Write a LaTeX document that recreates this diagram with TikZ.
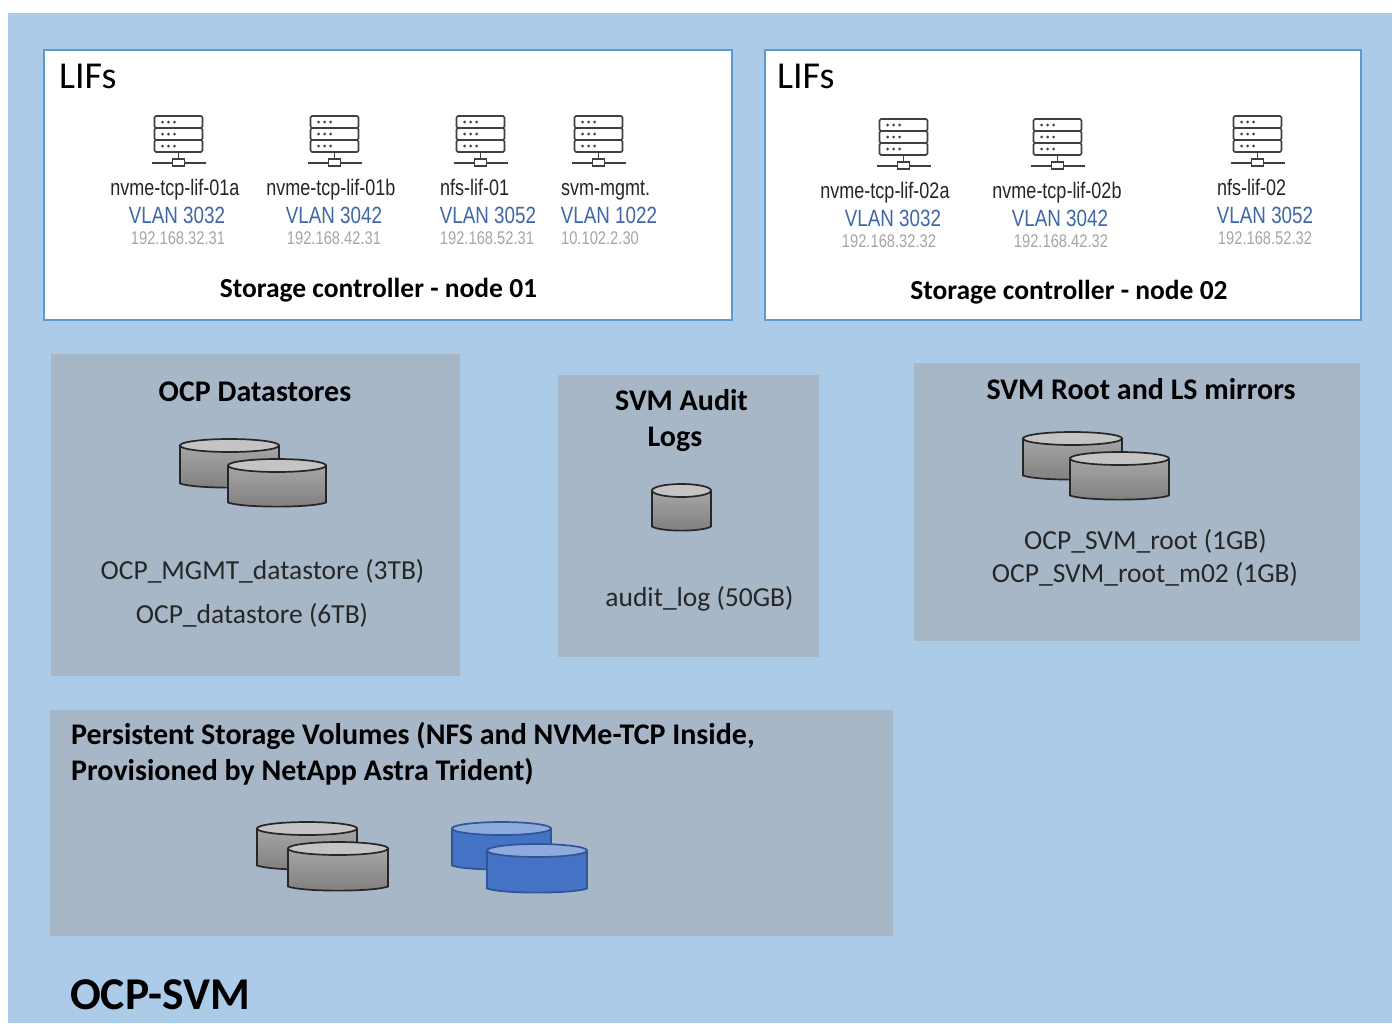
\documentclass[tikz,border=0pt]{standalone}
\usepackage{fontspec}
\setmainfont{Carlito}
\newfontfamily\narrowfont[FakeStretch=0.80]{Liberation Sans}
\definecolor{bgblue}{HTML}{ACCBE8}
\definecolor{lifborder}{HTML}{5B9BD5}
\definecolor{panelgrey}{HTML}{A7B7C8}
\definecolor{vlanblue}{HTML}{3F67A8}
\definecolor{ipgrey}{HTML}{A6A6A6}
\definecolor{icondark}{HTML}{404040}
\definecolor{drumedge}{HTML}{262626}
\definecolor{drumtop}{HTML}{C4C4C4}
\definecolor{drumhi}{HTML}{A6A6A6}
\definecolor{drumlo}{HTML}{7F7F7F}
\definecolor{blueedge}{HTML}{2F5597}
\definecolor{bluetop}{HTML}{8FAADC}
\definecolor{bluebody}{HTML}{4472C4}
\tikzset{
  x=1pt,y=-1pt,
  lifbox/.style={draw=lifborder,line width=2.6pt,fill=white},
  panel/.style={fill=panelgrey},
  liftitle/.style={anchor=west,inner sep=0pt,font=\fontsize{38}{40}\selectfont,text=black},
  lifname/.style={inner sep=0pt,anchor=base,font=\narrowfont\fontsize{22.5}{24}\selectfont,text=black!85},
  vlan/.style={inner sep=0pt,font=\narrowfont\fontsize{23.5}{25}\selectfont,text=vlanblue},
  ipaddr/.style={inner sep=0pt,font=\narrowfont\fontsize{18.4}{20}\selectfont,text=ipgrey},
  ctrlhead/.style={inner sep=0pt,font=\bfseries\fontsize{27.5}{30}\selectfont,text=black},
  boxhead/.style={inner sep=0pt,font=\bfseries\fontsize{30}{32}\selectfont,text=black},
  voltext/.style={inner sep=0pt,font=\fontsize{27.5}{30}\selectfont,text=black!85},
  iconline/.style={draw=icondark,line width=1.6pt},
}
% server icon: #1 centre x, #2 top y
\newcommand{\servericon}[2]{%
  \begin{scope}[shift={(#1,#2)}]
    \foreach \r in {0,12,24}{
      \draw[iconline,rounded corners=1.5pt] (-24,\r) rectangle (24,\r+12);
      \foreach \d in {-16,-10,-4}{\fill[icondark] (\d,\r+6) circle (1.5pt);}
    }
    \draw[iconline] (0,36) -- (0,43);
    \draw[iconline] (-27,47) -- (-6,47) (6,47) -- (27,47);
    \draw[iconline] (-6,43) rectangle (6,50);
  \end{scope}}
% drum: #1 left, #2 right, #3 top, #4 bottom, #5 edge, #6 top fill, #7 body-top, #8 body-bottom
\newcommand{\drum}[8]{%
  \pgfmathsetmacro{\cx}{(#1+#2)/2}\pgfmathsetmacro{\rx}{(#2-#1)/2}
  \pgfmathsetmacro{\ty}{#3+6.5}\pgfmathsetmacro{\by}{#4-4.5}
  \path[draw=#5,line width=1.7pt,top color=#7,bottom color=#8]
    (#1,\ty) -- (#1,\by) .. controls (#1+\rx*0.3,#4+1) and (#2-\rx*0.3,#4+1) .. (#2,\by) -- (#2,\ty) -- cycle;
  \draw[#5,line width=1.7pt,fill=#6] (\cx,\ty) ellipse [x radius=\rx,y radius=6.5];}
\newcommand{\greydrum}[4]{\drum{#1}{#2}{#3}{#4}{drumedge}{drumtop}{drumhi}{drumlo}}
\newcommand{\bluedrum}[4]{\drum{#1}{#2}{#3}{#4}{blueedge}{bluetop}{bluebody}{bluebody}}
\begin{document}
\begin{tikzpicture}
\useasboundingbox (0,0) rectangle (1392,1023);
\fill[bgblue] (8,13) rectangle (1392,1023);
\draw[lifbox] (44,50) rectangle (732,320);
\draw[lifbox] (765,50) rectangle (1361,320);
\fill[panel] (51,354) rectangle (460,676);
\fill[panel] (558,375) rectangle (819,657);
\fill[panel] (914,363) rectangle (1360,641);
\fill[panel] (50,710) rectangle (893,936);

\node[liftitle] (lifsa) at (59,76) {LIFs};
\node[liftitle] (lifsb) at (777,76) {LIFs};

\servericon{178.5}{116}\servericon{334.5}{116}\servericon{480.5}{116}\servericon{598.5}{116}
\servericon{903.5}{119}\servericon{1057.5}{119}\servericon{1257.5}{116}

\node[lifname] (n1a) at (175,195) {nvme-tcp-lif-01a};
\node[vlan] (v1a) at (177,215) {VLAN 3032};
\node[ipaddr] (i1a) at (178,238) {192.168.32.31};
\node[lifname] (n1b) at (331,195) {nvme-tcp-lif-01b};
\node[vlan] (v1b) at (334,215) {VLAN 3042};
\node[ipaddr] (i1b) at (334,238) {192.168.42.31};
\node[lifname,anchor=base west] (n1c) at (440,195) {nfs-lif-01};
\node[vlan] (v1c) at (488,215) {VLAN 3052};
\node[ipaddr] (i1c) at (487,238) {192.168.52.31};
\node[lifname,anchor=base west] (n1d) at (561,195) {svm-mgmt.};
\node[vlan] (v1d) at (609,215) {VLAN 1022};
\node[ipaddr] (i1d) at (600,238) {10.102.2.30};
\node[ctrlhead] (c1) at (378.5,290) {Storage controller - node 01};

\node[lifname] (n2a) at (885,198) {nvme-tcp-lif-02a};
\node[vlan] (v2a) at (893,218) {VLAN 3032};
\node[ipaddr] (i2a) at (889,241) {192.168.32.32};
\node[lifname] (n2b) at (1057,198) {nvme-tcp-lif-02b};
\node[vlan] (v2b) at (1060,218) {VLAN 3042};
\node[ipaddr] (i2b) at (1061,241) {192.168.42.32};
\node[lifname,anchor=base west] (n2c) at (1217,195) {nfs-lif-02};
\node[vlan] (v2c) at (1265,215) {VLAN 3052};
\node[ipaddr] (i2c) at (1265,238) {192.168.52.32};
\node[ctrlhead] (c2) at (1069,292) {Storage controller - node 02};

\node[boxhead] (h1) at (255,392) {OCP Datastores};
\greydrum{180}{279}{439}{488}\greydrum{228}{326}{459}{507}
\node[voltext] (t1a) at (262.5,571.5) {OCP\_MGMT\_datastore (3TB)};
\node[voltext] (t1b) at (252,615.5) {OCP\_datastore (6TB)};

\node[boxhead] (h2a) at (681.5,400) {SVM Audit};
\node[boxhead] (h2b) at (675,439) {Logs};
\greydrum{652}{711}{484}{531}
\node[voltext] (t2) at (699.5,599) {audit\_log (50GB)};

\node[boxhead] (h3) at (1141,389) {SVM Root and LS mirrors};
\greydrum{1023}{1122}{432}{480}\greydrum{1070}{1169}{452}{500}
\node[voltext] (t3a) at (1145.5,541) {OCP\_SVM\_root (1GB)};
\node[voltext] (t3b) at (1145,574) {OCP\_SVM\_root\_m02 (1GB)};

\node[boxhead,anchor=west] (h4a) at (71,736) {Persistent Storage Volumes (NFS and NVMe-TCP Inside,};
\node[boxhead,anchor=west] (h4b) at (71,772) {Provisioned by NetApp Astra Trident)};
\greydrum{257}{357}{822}{870}\greydrum{288}{388}{842}{891}
\bluedrum{452}{551}{822}{870}\bluedrum{487}{587}{844}{893}

\node[inner sep=0pt,anchor=west,font=\bfseries\fontsize{45.5}{48}\selectfont,text=black] (svm) at (70,995) {OCP-SVM};
\end{tikzpicture}
\end{document}
